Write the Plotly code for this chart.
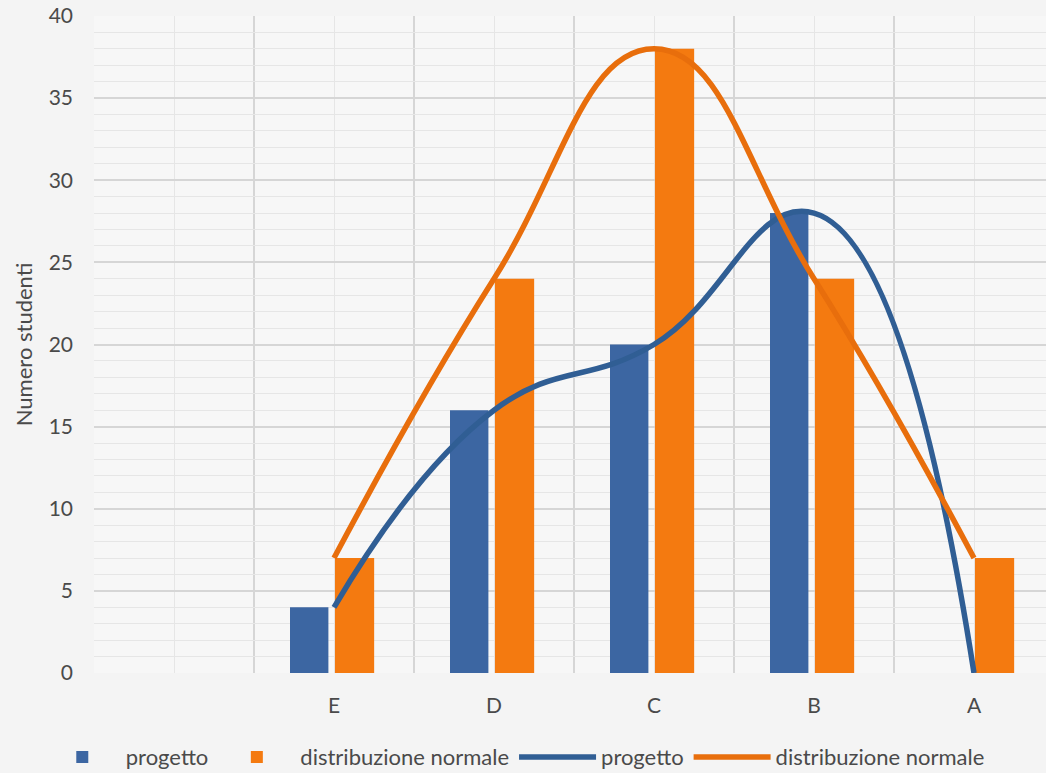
import plotly.graph_objects as go

# ---- data ----
categories = ["", "E", "D", "C", "B", "A"]
progetto = [None, 4, 16, 20, 28, 0]
normale = [None, 7, 24, 38, 24, 7]
y_ticks = [0, 5, 10, 15, 20, 25, 30, 35, 40]

positions = list(range(len(categories)))

BLUE_BAR = "#3C66A2"
ORANGE_BAR = "#F47A10"
BLUE_LINE = "#305E94"
ORANGE_LINE = "#E86E0C"
TEXT = "#4A4A4A"
FONT = "Lato"

fig = go.Figure()

fig.add_trace(go.Bar(
    x=positions, y=progetto, name="progetto",
    width=0.24, offset=-0.275,
    marker=dict(color=BLUE_BAR, line=dict(color="#2B4C7A", width=0)),
))
fig.add_trace(go.Bar(
    x=positions, y=normale, name="distribuzione normale",
    width=0.245, offset=0.006,
    marker=dict(color=ORANGE_BAR, line=dict(color="#C85F08", width=0)),
))
fig.add_trace(go.Scatter(
    x=positions, y=progetto, name="progetto", mode="lines",
    line=dict(color=BLUE_LINE, width=5.5, shape="spline", smoothing=1.3),
))
fig.add_trace(go.Scatter(
    x=positions, y=normale, name="distribuzione normale", mode="lines",
    line=dict(color=ORANGE_LINE, width=5.5, shape="spline", smoothing=1.3),
))

boundaries = [p - 0.5 for p in positions] + [positions[-1] + 0.5]

fig.update_layout(
    width=1046, height=773,
    margin=dict(l=94, r=0, t=16, b=100, autoexpand=False),
    paper_bgcolor="#F4F4F4",
    plot_bgcolor="#F7F7F7",
    font=dict(family=FONT, size=22, color=TEXT),
    barmode="overlay",
    showlegend=True,
    legend=dict(
        orientation="h", x=-0.058, xanchor="left", y=-0.128, yanchor="middle",
        font=dict(family=FONT, size=22, color=TEXT),
        bgcolor="rgba(0,0,0,0)", itemwidth=77, traceorder="normal",
    ),
    xaxis=dict(
        range=[-0.5, 5.45],
        tickmode="array", tickvals=positions, ticktext=categories,
        showgrid=True, gridcolor="#E6E6E6", gridwidth=1,
        zeroline=False, showline=False, ticks="",
        ticklabelstandoff=18, automargin=False,
        tickfont=dict(family=FONT, size=21, color=TEXT),
        minor=dict(tickmode="array", tickvals=boundaries, showgrid=True,
                   gridcolor="#D6D6D6", gridwidth=2, ticks=""),
        fixedrange=True,
    ),
    yaxis=dict(
        range=[0, 40],
        tickmode="array", tickvals=y_ticks,
        showgrid=True, gridcolor="#D6D6D6", gridwidth=2,
        zeroline=False, showline=False, ticks="",
        ticklabelstandoff=20, automargin=False,
        tickfont=dict(family=FONT, size=21, color=TEXT),
        minor=dict(dtick=1, showgrid=True, gridcolor="#E6E6E6", gridwidth=1, ticks=""),
        title=dict(text="Numero studenti", standoff=9,
                   font=dict(family=FONT, size=22, color=TEXT)),
        fixedrange=True,
    ),
)

fig.write_html(
    "out.html",
    config={"displayModeBar": False},
    post_script="document.body.style.margin='0';document.body.style.background='#F4F4F4';",
)
